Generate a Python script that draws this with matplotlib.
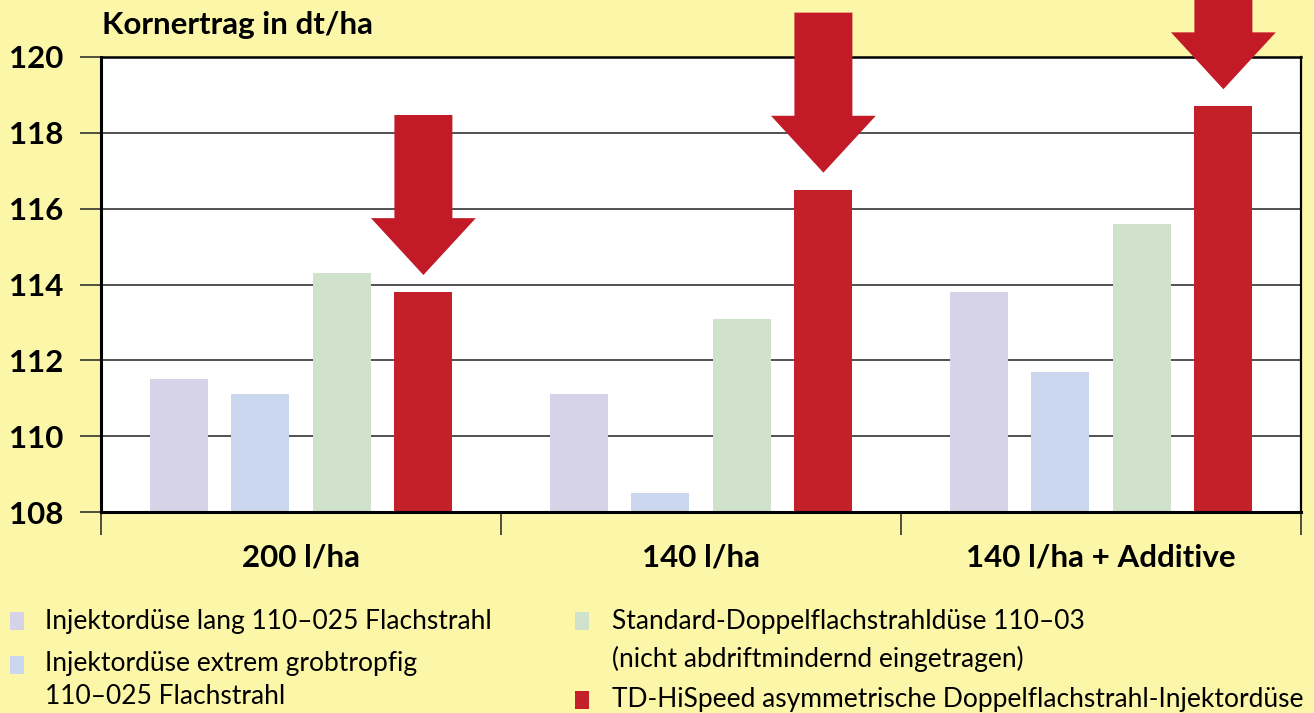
import matplotlib
matplotlib.use("Agg")
import matplotlib.pyplot as plt
from matplotlib.patches import Polygon, Rectangle
import numpy as np

plt.rcParams['font.family'] = ['Lato', 'DejaVu Sans']

groups = ["200 l/ha", "140 l/ha", "140 l/ha + Additive"]
series = [
    "Injektordüse lang 110–025 Flachstrahl",
    "Injektordüse extrem grobtropfig\n110–025 Flachstrahl",
    "Standard-Doppelflachstrahldüse 110–03\n(nicht abdriftmindernd eingetragen)",
    "TD-HiSpeed asymmetrische Doppelflachstrahl-Injektordüse",
]
values = [
    [111.5, 111.1, 113.8],   # Injektordüse lang
    [111.1, 108.5, 111.7],   # Injektordüse extrem grobtropfig
    [114.3, 113.1, 115.6],   # Standard-Doppelflachstrahl
    [113.8, 116.5, 118.7],   # TD-HiSpeed
]
yticks = [108, 110, 112, 114, 116, 118, 120]

colors = ["#d6d3e8", "#cad7ee", "#d0e2cb", "#c4202a"]
arrow_color = "#c21a26"
bg = "#fbf6a8"

W, H = 1314, 713
fig = plt.figure(figsize=(W / 100, H / 100), dpi=100, facecolor=bg)
ax = fig.add_axes([101 / W, (H - 512) / H, 1200 / W, 455 / H])
ax.set_facecolor("white")

x = np.arange(len(groups)) + 0.5
step = 0.204
width = 0.145
for i, (vals, c) in enumerate(zip(values, colors)):
    ax.bar(x + (i - 1.5) * step, np.array(vals) - yticks[0], width,
           bottom=yticks[0], color=c, zorder=3)

# arrows above the TD-HiSpeed bars
for xc, v in zip(x + 1.5 * step, values[3]):
    tip = v + 0.45
    base = tip + 1.5
    top = tip + 4.22
    hw, hh = width / 2, 0.131
    pts = [(xc, tip), (xc - hh, base), (xc - hw, base), (xc - hw, top),
           (xc + hw, top), (xc + hw, base), (xc + hh, base)]
    ax.add_patch(Polygon(pts, closed=True, color=arrow_color, lw=0,
                         clip_on=False, zorder=5))

ax.set_xlim(0, 3)
ax.set_ylim(yticks[0], yticks[-1])
ax.set_yticks(yticks)
ax.set_yticklabels([str(t) for t in yticks], fontsize=22.5, fontweight="bold")
ax.tick_params(axis="y", length=15, width=1.1, pad=12, color="#222222")
ax.set_xticks([0, 1, 2, 3])
ax.set_xticklabels([])
ax.tick_params(axis="x", length=16.5, width=1.1, color="#222222")
ax.grid(axis="y", color="#222222", lw=1.1, zorder=1)

for s, lw in [("left", 2.2), ("bottom", 2.2), ("top", 1.8), ("right", 1.6)]:
    ax.spines[s].set_linewidth(lw)
    ax.spines[s].set_color("black")
    ax.spines[s].set_zorder(4)

for xi, g in zip(x, groups):
    ax.text(xi, -0.099, g, transform=ax.get_xaxis_transform(),
            ha="center", va="center", fontsize=22.5, fontweight="bold")

fig.text(102 / W, 1 - 25 / H, "Kornertrag in dt/ha", ha="left", va="center",
         fontsize=22.5, fontweight="bold")

# legend: square position, text x, and centre y of each text line
leg_pos = [(10, 612, 45, [622]), (10, 656, 45, [664, 697]),
           (575, 612, 612, [622, 659]), (575, 691, 612, [699])]
for (sx, sy, tx, tys), label, c in zip(leg_pos, series, colors):
    fig.patches.append(Rectangle((sx / W, 1 - (sy + 18) / H), 14 / W, 18 / H,
                                 transform=fig.transFigure, color=c, lw=0))
    for line, ty in zip(label.split("\n"), tys):
        fig.text(tx / W, 1 - ty / H, line, ha="left", va="center", fontsize=19)

fig.savefig("out.png", dpi=100, facecolor=bg)
